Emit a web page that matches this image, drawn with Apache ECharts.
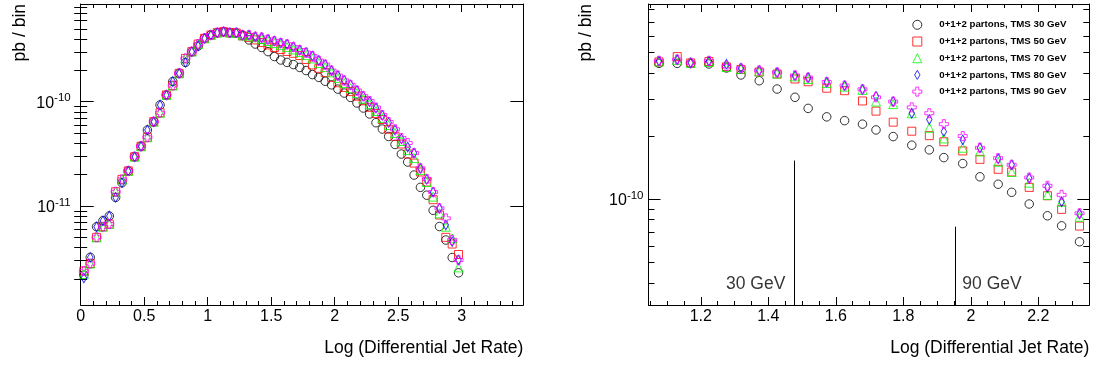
<!DOCTYPE html>
<html>
<head>
<meta charset="utf-8">
<script src="https://cdn.jsdelivr.net/npm/echarts@6/dist/echarts.min.js"></script>
<style>
html, body { margin: 0; padding: 0; background: #fff; }
#chart { width: 1099px; height: 367px; }
</style>
</head>
<body>
<div id="chart"></div>
<script>
// left panel: full range, bin centres
const xLeft = [0.025, 0.075, 0.125, 0.175, 0.225, 0.275, 0.325, 0.375, 0.425, 0.475,
    0.525, 0.575, 0.625, 0.675, 0.725, 0.775, 0.825, 0.875, 0.925, 0.975,
    1.025, 1.075, 1.125, 1.175, 1.225, 1.275, 1.325, 1.375, 1.425, 1.475,
    1.525, 1.575, 1.625, 1.675, 1.725, 1.775, 1.825, 1.875, 1.925, 1.975,
    2.025, 2.075, 2.125, 2.175, 2.225, 2.275, 2.325, 2.375, 2.425, 2.475,
    2.525, 2.575, 2.625, 2.675, 2.725, 2.775, 2.825, 2.875, 2.925, 2.975]
const tms30Left = [2.18e-12, 3.22e-12, 6.33e-12, 7.23e-12, 8.02e-12, 1.21e-11, 1.67e-11, 2.17e-11, 2.97e-11, 3.74e-11,
    5.35e-11, 6.43e-11, 9.30e-11, 1.16e-10, 1.56e-10, 1.87e-10, 2.38e-10, 3.02e-10, 3.42e-10, 4.05e-10,
    4.36e-10, 4.59e-10, 4.69e-10, 4.59e-10, 4.56e-10, 4.33e-10, 3.91e-10, 3.57e-10, 3.31e-10, 3.02e-10,
    2.71e-10, 2.51e-10, 2.38e-10, 2.27e-10, 2.13e-10, 1.99e-10, 1.82e-10, 1.71e-10, 1.57e-10, 1.45e-10,
    1.32e-10, 1.21e-10, 1.10e-10, 9.72e-11, 8.70e-11, 7.62e-11, 6.29e-11, 5.47e-11, 4.64e-11, 3.89e-11,
    3.15e-11, 2.64e-11, 1.98e-11, 1.51e-11, 1.27e-11, 9.10e-12, 6.36e-12, 4.72e-12, 3.21e-12, 2.29e-12]
const tms50Left = [2.38e-12, 2.81e-12, 5.01e-12, 6.33e-12, 6.72e-12, 1.37e-11, 1.80e-11, 2.17e-11, 2.97e-11, 3.74e-11,
    4.56e-11, 6.43e-11, 7.84e-11, 1.16e-10, 1.43e-10, 1.87e-10, 2.60e-10, 3.02e-10, 3.57e-10, 4.05e-10,
    4.36e-10, 4.59e-10, 4.69e-10, 4.59e-10, 4.56e-10, 4.27e-10, 4.13e-10, 3.91e-10, 3.69e-10, 3.50e-10,
    3.31e-10, 3.17e-10, 3.03e-10, 2.91e-10, 2.77e-10, 2.54e-10, 2.25e-10, 2.09e-10, 1.90e-10, 1.71e-10,
    1.52e-10, 1.37e-10, 1.25e-10, 1.13e-10, 1.02e-10, 8.84e-11, 7.71e-11, 6.75e-11, 5.44e-11, 4.66e-11,
    3.93e-11, 3.15e-11, 2.58e-11, 2.12e-11, 1.70e-11, 1.15e-11, 8.20e-12, 5.01e-12, 4.32e-12, 3.43e-12]
const tms70Left = [2.23e-12, 2.81e-12, 5.01e-12, 6.33e-12, 6.72e-12, 1.37e-11, 1.80e-11, 2.17e-11, 2.97e-11, 3.74e-11,
    4.56e-11, 6.43e-11, 7.84e-11, 1.16e-10, 1.43e-10, 1.87e-10, 2.60e-10, 3.02e-10, 3.57e-10, 4.05e-10,
    4.36e-10, 4.59e-10, 4.69e-10, 4.59e-10, 4.56e-10, 4.33e-10, 4.30e-10, 4.15e-10, 3.99e-10, 3.82e-10,
    3.65e-10, 3.50e-10, 3.35e-10, 3.17e-10, 3.00e-10, 2.80e-10, 2.60e-10, 2.35e-10, 2.15e-10, 1.91e-10,
    1.69e-10, 1.51e-10, 1.35e-10, 1.21e-10, 1.07e-10, 9.51e-11, 8.14e-11, 6.98e-11, 5.98e-11, 5.01e-11,
    4.20e-11, 3.44e-11, 2.88e-11, 2.21e-11, 1.70e-11, 1.23e-11, 8.51e-12, 6.33e-12, 4.90e-12, 2.58e-12]
const tms80Left = [2.04e-12, 3.22e-12, 6.33e-12, 7.23e-12, 8.02e-12, 1.21e-11, 1.67e-11, 2.17e-11, 2.97e-11, 3.74e-11,
    5.35e-11, 6.43e-11, 9.30e-11, 1.16e-10, 1.56e-10, 1.87e-10, 2.38e-10, 3.02e-10, 3.42e-10, 4.05e-10,
    4.36e-10, 4.59e-10, 4.69e-10, 4.59e-10, 4.59e-10, 4.36e-10, 4.36e-10, 4.20e-10, 4.13e-10, 3.96e-10,
    3.82e-10, 3.65e-10, 3.55e-10, 3.35e-10, 3.13e-10, 2.96e-10, 2.74e-10, 2.48e-10, 2.27e-10, 1.99e-10,
    1.78e-10, 1.60e-10, 1.45e-10, 1.28e-10, 1.13e-10, 1.00e-10, 8.70e-11, 7.40e-11, 6.30e-11, 5.35e-11,
    4.40e-11, 3.68e-11, 3.22e-11, 2.30e-11, 1.80e-11, 1.36e-11, 9.51e-12, 6.57e-12, 4.55e-12, 3.04e-12]
const tms90Left = [2.38e-12, 2.81e-12, 5.01e-12, 6.33e-12, 6.72e-12, 1.37e-11, 1.80e-11, 2.17e-11, 2.97e-11, 3.74e-11,
    4.56e-11, 6.43e-11, 7.84e-11, 1.16e-10, 1.43e-10, 1.87e-10, 2.60e-10, 3.02e-10, 3.57e-10, 4.05e-10,
    4.36e-10, 4.59e-10, 4.69e-10, 4.59e-10, 4.59e-10, 4.36e-10, 4.36e-10, 4.20e-10, 4.13e-10, 3.96e-10,
    3.82e-10, 3.65e-10, 3.55e-10, 3.35e-10, 3.13e-10, 2.96e-10, 2.74e-10, 2.48e-10, 2.27e-10, 1.99e-10,
    1.78e-10, 1.60e-10, 1.45e-10, 1.28e-10, 1.13e-10, 1.015e-10, 8.80e-11, 7.46e-11, 6.39e-11, 5.44e-11,
    4.49e-11, 4.02e-11, 3.22e-11, 2.30e-11, 1.82e-11, 1.36e-11, 9.51e-12, 7.62e-12, 4.72e-12, 3.04e-12]

// right panel: zoom on the merging region
const xRight = [1.076, 1.130, 1.170, 1.224, 1.276, 1.319, 1.373, 1.426, 1.479, 1.518, 1.573, 1.626, 1.679,
    1.719, 1.770, 1.825, 1.877, 1.920, 1.976, 2.027, 2.081, 2.121, 2.173, 2.227, 2.269, 2.322]
const tms30Right = [4.44e-10, 4.44e-10, 4.43e-10, 4.41e-10, 4.22e-10, 3.91e-10, 3.67e-10, 3.35e-10, 3.06e-10, 2.71e-10,
    2.47e-10, 2.37e-10, 2.28e-10, 2.14e-10, 1.99e-10, 1.81e-10, 1.72e-10, 1.58e-10, 1.48e-10, 1.28e-10,
    1.18e-10, 1.08e-10, 9.50e-11, 8.35e-11, 7.48e-11, 6.28e-11]
const tms50Right = [4.51e-10, 4.78e-10, 4.46e-10, 4.53e-10, 4.27e-10, 4.15e-10, 4.04e-10, 3.95e-10, 3.74e-10, 3.63e-10,
    3.38e-10, 3.29e-10, 2.94e-10, 2.63e-10, 2.33e-10, 2.11e-10, 2.01e-10, 1.88e-10, 1.70e-10, 1.55e-10,
    1.39e-10, 1.35e-10, 1.14e-10, 1.04e-10, 8.96e-11, 7.46e-11]
const tms70Right = [4.53e-10, 4.61e-10, 4.46e-10, 4.51e-10, 4.27e-10, 4.17e-10, 4.06e-10, 3.97e-10, 3.85e-10, 3.74e-10,
    3.58e-10, 3.44e-10, 3.32e-10, 2.92e-10, 2.84e-10, 2.57e-10, 2.19e-10, 1.95e-10, 1.76e-10, 1.69e-10,
    1.51e-10, 1.35e-10, 1.20e-10, 1.05e-10, 9.74e-11, 8.26e-11]
const tms80Right = [4.56e-10, 4.63e-10, 4.47e-10, 4.56e-10, 4.40e-10, 4.22e-10, 4.11e-10, 4.02e-10, 3.89e-10, 3.80e-10,
    3.62e-10, 3.48e-10, 3.34e-10, 3.10e-10, 2.92e-10, 2.57e-10, 2.40e-10, 2.10e-10, 1.92e-10, 1.76e-10,
    1.56e-10, 1.46e-10, 1.26e-10, 1.14e-10, 9.74e-11, 8.51e-11]
const tms90Right = [4.56e-10, 4.63e-10, 4.47e-10, 4.56e-10, 4.31e-10, 4.20e-10, 4.11e-10, 4.02e-10, 3.89e-10, 3.80e-10,
    3.62e-10, 3.48e-10, 3.34e-10, 3.06e-10, 2.92e-10, 2.74e-10, 2.57e-10, 2.28e-10, 2.00e-10, 1.76e-10,
    1.57e-10, 1.46e-10, 1.27e-10, 1.16e-10, 1.05e-10, 8.58e-11]

const seriesNames = ['0+1+2 partons, TMS 30 GeV', '0+1+2 partons, TMS 50 GeV', '0+1+2 partons, TMS 70 GeV',
    '0+1+2 partons, TMS 80 GeV', '0+1+2 partons, TMS 90 GeV']

// merging scale markers (log10 of 30 and 90 GeV)
const cutNames = ['30 GeV', '90 GeV']
const cutX = [1.477, 1.954]
const cutTop = [1.53e-10, 7.41e-11]
const cutLabelY = 3.94e-11

// axis ranges and ticks
const xRangeLeft = [0, 3.485]
const yRangeLeft = [1.125e-12, 8.64e-10]
const xRangeRight = [1.045, 2.351]
const yRangeRight = [3.14e-11, 8.51e-10]
const xTicksLeft = [0, 0.5, 1, 1.5, 2, 2.5, 3]
const xMinorLeft = [0.1, 0.2, 0.3, 0.4, 0.6, 0.7, 0.8, 0.9, 1.1, 1.2, 1.3, 1.4, 1.6, 1.7, 1.8, 1.9,
    2.1, 2.2, 2.3, 2.4, 2.6, 2.7, 2.8, 2.9, 3.1, 3.2, 3.3, 3.4]
const xTicksRight = [1.2, 1.4, 1.6, 1.8, 2, 2.2]
const xMinorRight = [1.05, 1.1, 1.15, 1.25, 1.3, 1.35, 1.45, 1.5, 1.55, 1.65, 1.7, 1.75, 1.85, 1.9, 1.95,
    2.05, 2.1, 2.15, 2.25, 2.3, 2.35]
const yTicksLeft = [1e-11, 1e-10]
const yMinorLeft = [2e-12, 3e-12, 4e-12, 5e-12, 6e-12, 7e-12, 8e-12, 9e-12,
    2e-11, 3e-11, 4e-11, 5e-11, 6e-11, 7e-11, 8e-11, 9e-11,
    2e-10, 3e-10, 4e-10, 5e-10, 6e-10, 7e-10, 8e-10]
const yTicksRight = [1e-10]
const yMinorRight = [4e-11, 5e-11, 6e-11, 7e-11, 8e-11, 9e-11, 2e-10, 3e-10, 4e-10, 5e-10, 6e-10, 7e-10, 8e-10]

const FONT = '"Liberation Sans", Arial, Helvetica, sans-serif'
const markers = [
    { symbol: 'circle', size: 8.5, color: '#000000' },
    { symbol: 'path://M0,0H10V10H0Z', size: 8, color: '#ff0000' },
    { symbol: 'path://M5,0L10,10H0Z', size: 9, color: '#00ff00' },
    { symbol: 'path://M3,0L6,5L3,10L0,5Z', size: [5.5, 9.5], color: '#0000ff' },
    { symbol: 'path://M3,0H6V3H9V6H6V9H3V6H0V3H3Z', size: 9, color: '#ff00ff' }
]

const chart = echarts.init(document.getElementById('chart'), null, { renderer: 'canvas' })

const line = { show: true, onZero: false, lineStyle: { color: '#000', width: 1 } }
const noLine = { show: false }

const xAxisOf = (gridIndex, position, range, extra) => Object.assign({
    type: 'value', gridIndex, position, min: range[0], max: range[1],
    axisLine: line, splitLine: { show: false },
    axisLabel: { show: false }
}, extra)

const yAxisOf = (gridIndex, position, range, extra) => Object.assign({
    type: 'log', logBase: 10, gridIndex, position, min: range[0], max: range[1],
    axisLine: line, splitLine: { show: false },
    axisLabel: { show: false }
}, extra)

const xLabel = values => ({
    show: true, customValues: values, margin: 4, fontSize: 16, color: '#000', fontFamily: FONT
})
const powLabel = (values, margin) => ({
    show: true, customValues: values, margin,
    formatter: v => '{b|10}{s|' + Math.round(Math.log10(v)) + '}',
    rich: {
        b: { fontSize: 16, fontFamily: FONT, color: '#000', verticalAlign: 'bottom' },
        s: { fontSize: 11.5, fontFamily: FONT, color: '#000', verticalAlign: 'bottom', padding: [0, 0, 7, 0] }
    }
})
const tick = (len, values) => ({
    show: true, inside: true, length: len, customValues: values, lineStyle: { color: '#000', width: 1 }
})

const xAxes = [
    xAxisOf(0, 'bottom', xRangeLeft, { axisTick: tick(8, xTicksLeft), axisLabel: xLabel(xTicksLeft) }),
    xAxisOf(0, 'bottom', xRangeLeft, { axisLine: noLine, axisTick: tick(4, xMinorLeft) }),
    xAxisOf(0, 'top', xRangeLeft, { axisTick: tick(8, xTicksLeft) }),
    xAxisOf(0, 'top', xRangeLeft, { axisLine: noLine, axisTick: tick(4, xMinorLeft) }),
    xAxisOf(1, 'bottom', xRangeRight, { axisTick: tick(8, xTicksRight), axisLabel: xLabel(xTicksRight) }),
    xAxisOf(1, 'bottom', xRangeRight, { axisLine: noLine, axisTick: tick(4, xMinorRight) }),
    xAxisOf(1, 'top', xRangeRight, { axisTick: tick(8, xTicksRight) }),
    xAxisOf(1, 'top', xRangeRight, { axisLine: noLine, axisTick: tick(4, xMinorRight) })
]

const yAxes = [
    yAxisOf(0, 'left', yRangeLeft, { axisTick: tick(13, yTicksLeft), axisLabel: powLabel(yTicksLeft, 10) }),
    yAxisOf(0, 'left', yRangeLeft, { axisLine: noLine, axisTick: tick(6.5, yMinorLeft) }),
    yAxisOf(0, 'right', yRangeLeft, { axisTick: tick(13, yTicksLeft) }),
    yAxisOf(0, 'right', yRangeLeft, { axisLine: noLine, axisTick: tick(6.5, yMinorLeft) }),
    yAxisOf(1, 'left', yRangeRight, { axisTick: tick(12, yTicksRight), axisLabel: powLabel(yTicksRight, 5) }),
    yAxisOf(1, 'left', yRangeRight, { axisLine: noLine, axisTick: tick(6, yMinorRight) }),
    yAxisOf(1, 'right', yRangeRight, { axisTick: tick(12, yTicksRight) }),
    yAxisOf(1, 'right', yRangeRight, { axisLine: noLine, axisTick: tick(6, yMinorRight) })
]

const scatter = (i, xs, ys, xAxisIndex, yAxisIndex) => ({
    type: 'scatter',
    name: seriesNames[i],
    xAxisIndex, yAxisIndex,
    symbol: markers[i].symbol,
    symbolSize: markers[i].size,
    itemStyle: { color: 'rgba(0,0,0,0)', borderColor: markers[i].color, borderWidth: 1 },
    emphasis: { disabled: true },
    silent: true,
    data: xs.map((x, k) => [x, ys[k]])
})

const leftSets = [tms30Left, tms50Left, tms70Left, tms80Left, tms90Left]
const rightSets = [tms30Right, tms50Right, tms70Right, tms80Right, tms90Right]

const series = []
leftSets.forEach((ys, i) => series.push(scatter(i, xLeft, ys, 0, 0)))
rightSets.forEach((ys, i) => series.push(scatter(i, xRight, ys, 4, 4)))

series.push({
    type: 'scatter',
    name: 'cuts',
    xAxisIndex: 4, yAxisIndex: 4,
    symbolSize: 0,
    silent: true,
    label: {
        show: true, fontSize: 17.5, fontFamily: FONT, color: '#000',
        formatter: p => cutNames[p.dataIndex]
    },
    data: [
        { value: [cutX[0], cutLabelY], label: { position: 'left', distance: 9 } },
        { value: [cutX[1], cutLabelY], label: { position: 'right', distance: 7 } }
    ],
    markLine: {
        silent: true,
        symbol: ['none', 'none'],
        label: { show: false },
        lineStyle: { color: '#000', width: 1, type: 'solid' },
        data: cutX.map((x, i) => [{ coord: [x, cutTop[i]] }, { coord: [x, yRangeRight[0]] }])
    }
})

const textEl = (text, x, y, align, rotation) => ({
    type: 'text', x, y, rotation: rotation || 0, silent: true,
    style: {
        text, fill: '#000', fontSize: 17.5, fontFamily: FONT,
        align, textAlign: align, verticalAlign: 'middle', textVerticalAlign: 'middle'
    }
})

chart.setOption({
    animation: false,
    backgroundColor: '#fff',
    textStyle: { fontFamily: FONT },
    grid: [
        { left: 80.7, top: 4, width: 442.6, height: 301 },
        { left: 648.5, top: 4, width: 440.8, height: 301 }
    ],
    xAxis: xAxes,
    yAxis: yAxes,
    legend: {
        data: seriesNames,
        orient: 'vertical',
        left: 907.3,
        top: 14.8,
        itemWidth: 34,
        itemHeight: 9,
        itemGap: 6.7,
        selectedMode: false,
        itemStyle: { borderWidth: 1 },
        textStyle: { fontSize: 9.7, fontWeight: 'bold', fontFamily: FONT, color: '#000', lineHeight: 9 }
    },
    graphic: [
        textEl('Log (Differential Jet Rate)', 523.3, 348, 'right'),
        textEl('Log (Differential Jet Rate)', 1089.3, 348, 'right'),
        textEl('pb / bin', 20, 4, 'right', Math.PI / 2),
        textEl('pb / bin', 586.5, 4, 'right', Math.PI / 2)
    ],
    series
})
</script>
</body>
</html>
